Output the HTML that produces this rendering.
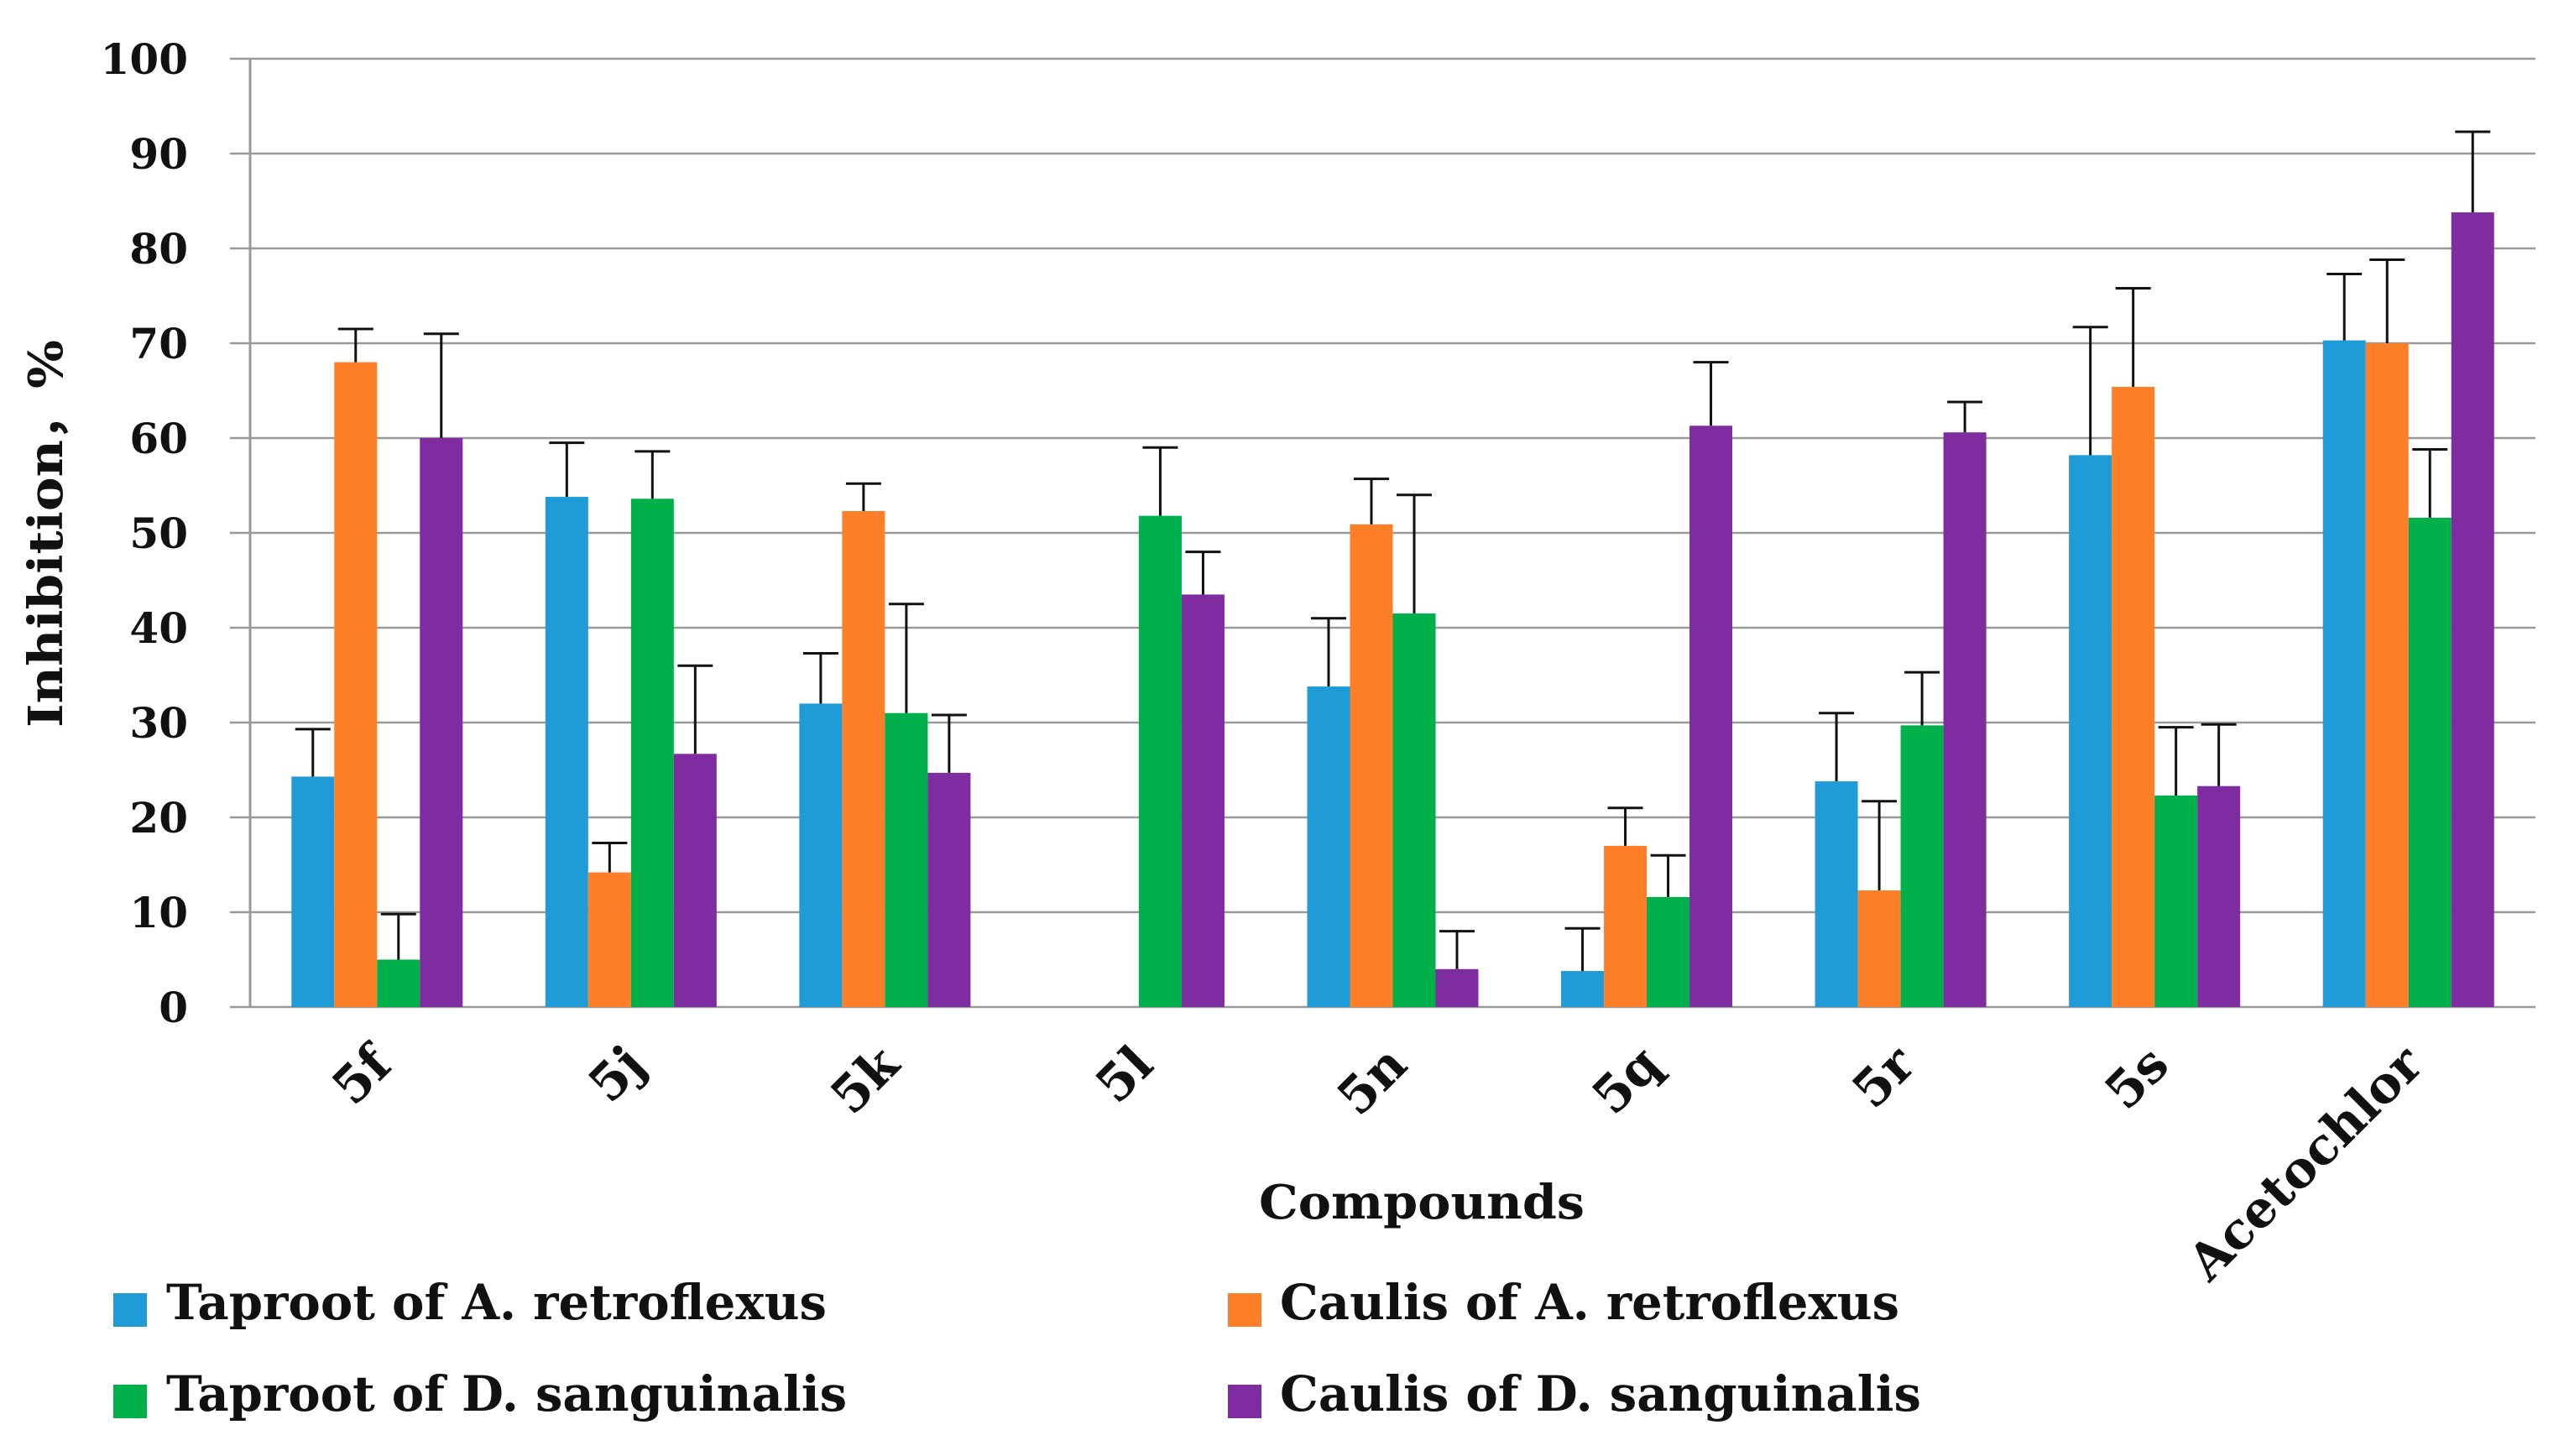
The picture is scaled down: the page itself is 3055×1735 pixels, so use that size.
<!DOCTYPE html>
<html><head><meta charset="utf-8"><style>
body{margin:0;background:#fff;}
svg text{font-family:"DejaVu Serif","Liberation Serif",serif;font-weight:bold;fill:#111;}
</style></head><body>
<svg id="chart" width="3055" height="1730" viewBox="0 0 3055 1730" xmlns="http://www.w3.org/2000/svg">
<g id="grid"></g><g id="bars"></g><g id="errs"></g><g id="labels"></g>
<text transform="translate(74,636) rotate(-90)" text-anchor="middle" font-size="56" textLength="462" lengthAdjust="spacingAndGlyphs">Inhibition，%</text>
<text x="1694" y="1452" text-anchor="middle" font-size="56" textLength="388" lengthAdjust="spacingAndGlyphs">Compounds</text>
<g font-size="58">
<rect x="135" y="1541" width="40" height="40" fill="#1f9bd7"/>
<text x="198" y="1572" textLength="787" lengthAdjust="spacingAndGlyphs">Taproot of A. retroflexus</text>
<rect x="1463" y="1541" width="40" height="40" fill="#fe7f27"/>
<text x="1525" y="1572" textLength="738" lengthAdjust="spacingAndGlyphs">Caulis of A. retroflexus</text>
<rect x="135" y="1650" width="40" height="40" fill="#00b04a"/>
<text x="198" y="1681" textLength="811" lengthAdjust="spacingAndGlyphs">Taproot of D. sanguinalis</text>
<rect x="1463" y="1650" width="40" height="40" fill="#7f2ca0"/>
<text x="1525" y="1681" textLength="764" lengthAdjust="spacingAndGlyphs">Caulis of D. sanguinalis</text>
</g>
</svg>
<script>
const categories=["5f","5j","5k","5l","5n","5q","5r","5s","Acetochlor"];
const taprootA=[24.3,53.8,32,0,33.8,3.8,23.8,58.2,70.3];
const taprootAErr=[29.3,59.5,37.3,0,41,8.3,31,71.7,77.3];
const caulisA=[68,14.2,52.3,0,50.9,17,12.3,65.4,70];
const caulisAErr=[71.5,17.3,55.2,0,55.7,21,21.7,75.8,78.8];
const taprootD=[5,53.6,31,51.8,41.5,11.6,29.7,22.3,51.6];
const taprootDErr=[9.8,58.6,42.5,59,54,16,35.3,29.5,58.8];
const caulisD=[60,26.7,24.7,43.5,4,61.3,60.6,23.3,83.8];
const caulisDErr=[71,36,30.8,48,8,68,63.8,29.8,92.3];
const yTicks=[0,10,20,30,40,50,60,70,80,90,100];
const series=[[taprootA,taprootAErr,"#1f9bd7","taproot-a"],[caulisA,caulisAErr,"#fe7f27","caulis-a"],[taprootD,taprootDErr,"#00b04a","taproot-d"],[caulisD,caulisDErr,"#7f2ca0","caulis-d"]];
const X0=298,X1=3021,Y0=1200,Y100=70,BW=51;
const band=(X1-X0)/categories.length;
const y=v=>Y0-(Y0-Y100)*v/100;
const NS="http://www.w3.org/2000/svg";
function mk(t,a,p){const e=document.createElementNS(NS,t);for(const k in a)e.setAttribute(k,a[k]);p.appendChild(e);return e;}
const G=document.getElementById('grid'),B=document.getElementById('bars'),E=document.getElementById('errs'),L=document.getElementById('labels');
yTicks.forEach(t=>{
 const l=mk('line',{x1:274,x2:X1,y1:y(t),y2:y(t),stroke:'#999','stroke-width':2.5},G);
 
 
 const tx=mk('text',{x:224,y:y(t)+18,'text-anchor':'end','font-size':50},L);
 tx.textContent=t;
 
 
});
const ax=mk('line',{x1:X0,x2:X0,y1:Y100,y2:Y0,stroke:'#999','stroke-width':3},G);


categories.forEach((c,i)=>{
 const cx=X0+band*(i+0.5);
 series.forEach((s,j)=>{
  const v=s[0][i];if(v<=0)return;
  const bx=cx-2*BW+j*BW;
  const r=mk('rect',{x:bx,y:y(v),width:BW,height:Y0-y(v),fill:s[2]},B);
  
  
  const ev=s[1][i];
  const g=mk('g',{stroke:'#111','stroke-width':3},E);
  
  
  mk('line',{x1:bx+BW/2,x2:bx+BW/2,y1:y(v),y2:y(ev)},g);
  mk('line',{x1:bx+BW/2-21,x2:bx+BW/2+21,y1:y(ev),y2:y(ev)},g);
 });
 const t=mk('text',{transform:`translate(${cx+20},${1272}) rotate(-45)`,'text-anchor':'end','font-size':60},L);
 t.textContent=c;
 
 
});
</script>
</body></html>
